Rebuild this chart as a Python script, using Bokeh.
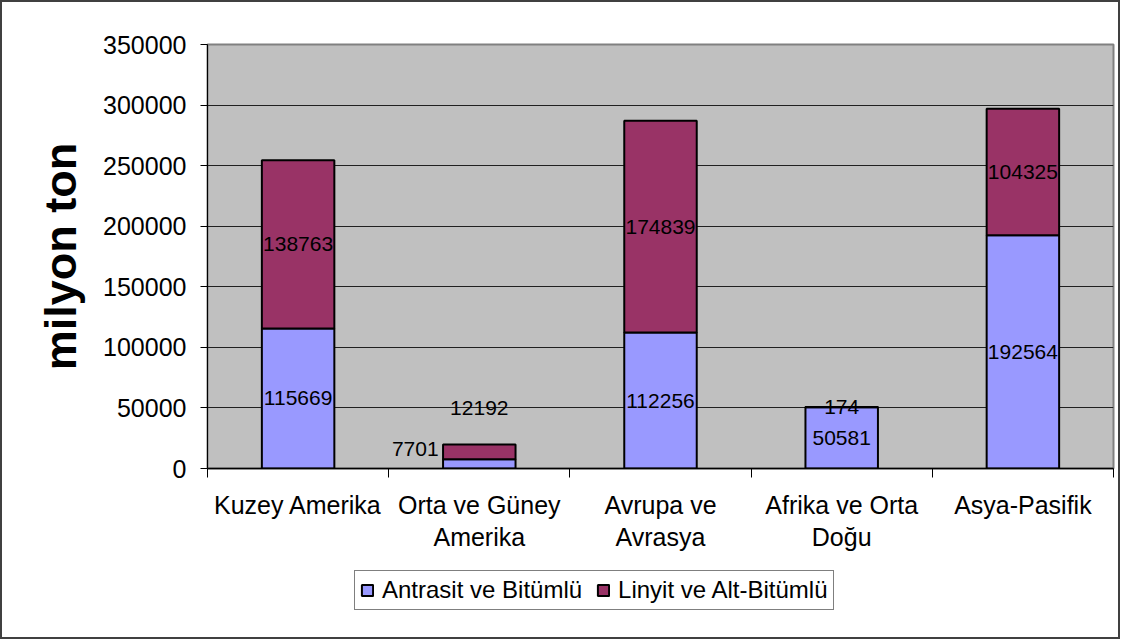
from bokeh.plotting import figure
from bokeh.layouts import column
from bokeh.models import (ColumnDataSource, FixedTicker, NumeralTickFormatter, Legend,
                          LegendItem, Range1d)
from bokeh.embed import file_html
from bokeh.resources import INLINE
from bokeh.core.properties import value

# ---- data ----
categories = ["Kuzey Amerika", "Orta ve Güney\nAmerika", "Avrupa ve\nAvrasya",
              "Afrika ve Orta\nDoğu", "Asya-Pasifik"]
antrasit = [115669, 7701, 112256, 50581, 192564]
linyit = [138763, 12192, 174839, 174, 104325]
series_names = ["Antrasit ve Bitümlü", "Linyit ve Alt-Bitümlü"]
y_ticks = [0, 50000, 100000, 150000, 200000, 250000, 300000, 350000]

# label nudges (screen px) for labels that do not fit inside their segment
antrasit_dx = [0, -64, 0, 0, 0]
antrasit_dy = [0, -15, 0, 0, 0]
linyit_dx = [0, 0, 0, 0, 0]
linyit_dy = [0, -44, 0, 0, 0]

BLUE = "#9999FF"
MAROON = "#993366"
FONT = "Liberation Sans"
colors = [BLUE, MAROON]

n = len(categories)
xs = [i + 0.5 for i in range(n)]

src = ColumnDataSource(dict(x=xs, a=antrasit, l=linyit))

p = figure(width=1116, height=558, x_range=Range1d(0, n), y_range=Range1d(0, y_ticks[-1]),
           output_backend="svg", toolbar_location=None,
           min_border_left=205, min_border_right=5, min_border_top=42, min_border_bottom=92)

p.background_fill_color = "#C0C0C0"
p.border_fill_color = "white"
p.outline_line_color = "#808080"
p.outline_line_width = 2

rs = p.vbar_stack(["a", "l"], x="x", width=0.4, source=src,
                  fill_color=colors, line_color="black", line_width=2)

# data labels
lx = xs + xs
ly = [a / 2 for a in antrasit] + [a + l / 2 for a, l in zip(antrasit, linyit)]
lt = [str(v) for v in antrasit] + [str(v) for v in linyit]
lsrc = ColumnDataSource(dict(x=lx, y=ly, t=lt, dx=antrasit_dx + linyit_dx,
                             dy=antrasit_dy + linyit_dy))
p.text(x="x", y="y", text="t", x_offset="dx", y_offset="dy", source=lsrc,
       text_font=value(FONT), text_font_size="21px", text_color="black",
       text_align="center", text_baseline="middle")

# grid
p.xgrid.grid_line_color = None
p.ygrid.ticker = FixedTicker(ticks=y_ticks)
p.ygrid.grid_line_color = "#202020"
p.ygrid.grid_line_width = 1

# y axis
ya = p.yaxis[0]
ya.ticker = FixedTicker(ticks=y_ticks)
ya.formatter = NumeralTickFormatter(format="0")
ya.major_tick_out = 7
ya.major_tick_in = 0
ya.minor_tick_line_color = None
ya.major_tick_line_color = "black"
ya.axis_line_color = "black"
ya.major_label_text_font = FONT
ya.major_label_text_font_size = "25px"
ya.major_label_text_color = "black"
ya.major_label_standoff = 14
ya.axis_label = "milyon ton"
ya.axis_label_text_font = FONT
ya.axis_label_text_font_size = "45px"
ya.axis_label_text_font_style = "bold"
ya.axis_label_text_color = "black"
ya.axis_label_standoff = 14

# x axis
xa = p.xaxis[0]
xa.ticker = FixedTicker(ticks=xs, minor_ticks=list(range(n + 1)))
xa.major_label_overrides = {x: c for x, c in zip(xs, categories)}
xa.major_tick_out = 0
xa.major_tick_in = 0
xa.minor_tick_out = 9
xa.minor_tick_in = 0
xa.minor_tick_line_color = "black"
xa.axis_line_color = "black"
xa.axis_line_width = 1.5
xa.major_label_text_font = FONT
xa.major_label_text_font_size = "25px"
xa.major_label_text_color = "black"
xa.major_label_standoff = 13
xa.major_label_text_line_height = 1.15

# legend strip below the chart; swatch proxies sit hidden behind the legend box
lf = figure(width=1116, height=77, x_range=Range1d(0, 1), y_range=Range1d(0, 1),
            output_backend="svg", toolbar_location=None,
            min_border_left=0, min_border_right=0, min_border_top=0, min_border_bottom=0)
lf.axis.visible = False
lf.grid.grid_line_color = None
lf.outline_line_color = None
lf.background_fill_color = "white"
lf.border_fill_color = "white"
dummy = [lf.vbar(x=[0.5], top=[0.6], bottom=[0.5], width=0.005, fill_color=c,
                 line_color="black", line_width=2)
         for c in colors]
legend = Legend(items=[LegendItem(label=nm, renderers=[r]) for nm, r in zip(series_names, dummy)],
                orientation="horizontal", location=(147, 27),
                label_text_font=FONT, label_text_font_size="24px", label_text_color="black",
                glyph_width=14, glyph_height=14, label_standoff=8, spacing=14,
                padding=5, margin=0, border_line_color="black", border_line_width=1,
                background_fill_color="white", background_fill_alpha=1)
lf.add_layout(legend)

# outer chart border
layout = column(p, lf, spacing=0, styles={"border": "2px solid #404040"})

open("out.html", "w").write(file_html(layout, INLINE))
